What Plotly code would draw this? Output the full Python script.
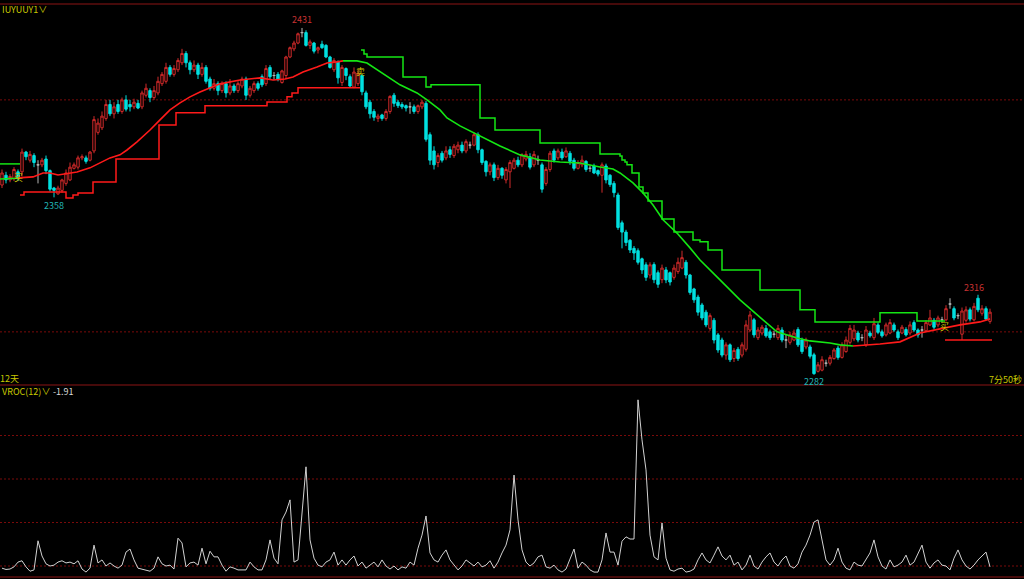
import plotly.graph_objects as go

# ---------------- price candles (one per bar) ----------------
opens = [
    2363.3, 2367.5, 2365.5, 2366, 2369, 2369, 2377.5, 2374, 2376, 2372,
    2372, 2374.5, 2369.5, 2362, 2359.5, 2361, 2364, 2365.5, 2370.5, 2371,
    2375, 2375, 2374, 2378, 2386, 2388, 2392, 2398, 2394, 2398,
    2395, 2400, 2398, 2397, 2398.5, 2397, 2402, 2404, 2401, 2403,
    2407, 2408, 2414, 2411, 2413, 2416, 2420, 2416, 2413, 2415,
    2411, 2414, 2409, 2405, 2407, 2404, 2407, 2403, 2406, 2404,
    2406, 2409, 2402, 2404, 2407, 2410, 2407, 2414, 2410.5, 2411,
    2407.5, 2410.5, 2418.5, 2422, 2424.5, 2429, 2429, 2423.5, 2424.5, 2421.5,
    2424, 2423.5, 2418.5, 2413, 2416.5, 2407.5, 2413.5, 2410, 2405.5, 2407,
    2410.5, 2403, 2399, 2395, 2392, 2393.5, 2392, 2395, 2402, 2399,
    2398, 2397.5, 2397, 2397, 2395, 2397, 2398.5, 2385, 2378, 2373,
    2377, 2375, 2378.5, 2376, 2378.5, 2380.5, 2378, 2380.5, 2380.5, 2385,
    2378.5, 2373.5, 2369, 2372, 2366.5, 2370.5, 2365.5, 2369, 2370.5, 2374,
    2372, 2374.5, 2375.5, 2372, 2374, 2372, 2364, 2370, 2378, 2375,
    2377.5, 2375.5, 2377, 2374, 2370.5, 2372, 2373.5, 2370.5, 2371.5, 2369.5,
    2367.5, 2371.5, 2367.5, 2364, 2359, 2347, 2343, 2339.5, 2336, 2335,
    2331.5, 2328.9, 2324.5, 2329, 2325.5, 2322.5, 2326.7, 2325.5, 2323.5, 2326,
    2327.5, 2330, 2324.5, 2318.5, 2315, 2311.6, 2308.5, 2301.5, 2305, 2298.7,
    2296.5, 2290, 2294.4, 2288.5, 2292.5, 2290, 2292.5, 2300.8, 2305.2, 2297.5,
    2299.5, 2301.5, 2300, 2299, 2297.5, 2300.8, 2296.5, 2295.5, 2296.5, 2301,
    2296.5, 2293.5, 2293.5, 2290.1, 2283, 2283.5, 2286.5, 2286.5, 2288.5, 2293,
    2289, 2291.5, 2295.5, 2297, 2299.5, 2297.5, 2294.4, 2299.5, 2297.5, 2303,
    2300, 2298.7, 2299.5, 2303, 2300, 2299.5, 2301, 2299.5, 2304, 2300.8,
    2300.8, 2300.5, 2303, 2305, 2303, 2305.2, 2305.2, 2312, 2310, 2307,
    2299, 2305, 2309.5, 2305.2, 2314.5, 2308, 2310, 2304.5,
]
highs = [
    2370, 2369, 2368, 2371, 2370, 2379, 2378, 2378, 2377, 2374,
    2375, 2376, 2370, 2362.5, 2363, 2366, 2370, 2373, 2373, 2376,
    2376.5, 2376, 2378, 2393, 2392, 2395, 2400, 2400, 2399, 2400,
    2401, 2402, 2400, 2400.5, 2400, 2404, 2407, 2405, 2406, 2410,
    2412, 2416, 2415, 2415, 2418, 2422, 2421, 2417, 2417, 2416,
    2416, 2415, 2410, 2409, 2408, 2408, 2408, 2409, 2407, 2408,
    2410, 2410, 2406, 2408, 2408, 2411, 2415, 2415, 2412, 2412,
    2413, 2419, 2423, 2425.5, 2429, 2431, 2430, 2426, 2425, 2423,
    2425.5, 2424, 2419, 2418, 2417, 2415, 2414, 2411, 2414, 2413,
    2411, 2404, 2400, 2396, 2394, 2394, 2396, 2402, 2403, 2400,
    2399, 2398, 2399, 2398, 2398, 2400, 2399.5, 2386, 2380, 2377,
    2378, 2380, 2380, 2381, 2382, 2382, 2383, 2382, 2386, 2386,
    2379, 2374, 2373, 2373, 2372, 2371, 2371, 2374, 2375, 2375.5,
    2377, 2378, 2377, 2378, 2376, 2373, 2371, 2378, 2379, 2379,
    2379, 2379.5, 2378, 2375, 2374, 2376, 2374, 2372, 2372.5, 2370,
    2373, 2372.5, 2368, 2365, 2360, 2348, 2344, 2340, 2337, 2336,
    2332, 2330, 2330, 2330, 2326.5, 2329, 2328, 2326, 2329, 2332,
    2335, 2331, 2325, 2319, 2316, 2312.5, 2309.5, 2308, 2306, 2299.5,
    2297.5, 2295.5, 2295, 2293, 2293.5, 2295.5, 2305, 2309, 2306, 2302,
    2303, 2303, 2301, 2300.5, 2303, 2302, 2298.7, 2300, 2301, 2302,
    2297.5, 2297.5, 2294.5, 2291, 2287, 2289.5, 2288, 2290, 2293, 2294,
    2295.5, 2298, 2303, 2303, 2300.5, 2299, 2302.5, 2300.5, 2306, 2304,
    2301, 2304, 2305.5, 2304, 2301, 2303, 2302, 2304.5, 2305, 2301.5,
    2302.5, 2305, 2309.5, 2306, 2307, 2306.5, 2311.5, 2314.5, 2311, 2308,
    2310.5, 2311, 2310.5, 2312.5, 2316, 2311.5, 2311, 2310,
]
lows = [
    2362, 2364, 2364.5, 2365, 2365, 2367, 2374, 2373, 2371, 2364,
    2371, 2368, 2360.5, 2358, 2359, 2360, 2363, 2365, 2370, 2370,
    2374, 2372.5, 2373.5, 2377, 2385, 2387, 2391, 2393, 2392, 2394,
    2394, 2395, 2395, 2396, 2396, 2396, 2401, 2399, 2400, 2402,
    2406, 2407, 2410, 2410, 2412, 2415, 2414, 2411, 2412, 2409,
    2410, 2407, 2404, 2404, 2402, 2403, 2401, 2402, 2403, 2403,
    2405, 2400, 2401, 2403, 2404, 2405.5, 2406, 2409, 2408.5, 2408,
    2407, 2409, 2418, 2421, 2424, 2427, 2423, 2422, 2420, 2420,
    2422, 2418, 2413.5, 2412, 2407, 2406, 2408.5, 2405.5, 2405, 2406,
    2402, 2396, 2392, 2391, 2390.5, 2391, 2391, 2394, 2397, 2396.5,
    2396, 2395, 2394, 2394, 2394, 2396, 2382, 2372, 2370, 2371,
    2373, 2374, 2375, 2375, 2377, 2377, 2377, 2379, 2380, 2377,
    2372, 2367, 2367.5, 2365, 2365.5, 2366, 2364, 2362, 2370, 2371,
    2371, 2373.5, 2370, 2371, 2372, 2360, 2363, 2369, 2373, 2374,
    2374, 2375, 2372, 2369.5, 2370, 2371, 2369, 2369, 2368, 2367,
    2360, 2364, 2362.5, 2358, 2344, 2336, 2337, 2334, 2331, 2329,
    2325, 2322, 2323, 2321, 2319, 2321, 2321, 2320, 2322.5, 2325,
    2327, 2323, 2316, 2312.5, 2307, 2305, 2302, 2300.5, 2295, 2291,
    2289, 2288, 2287, 2287, 2287.5, 2289, 2291.5, 2300, 2297.5, 2296.5,
    2298.5, 2297.5, 2296.5, 2297.5, 2296.5, 2295.5, 2293, 2294.5, 2296, 2293.5,
    2290.5, 2292.5, 2288.5, 2281.5, 2282.5, 2283, 2285, 2285.5, 2288, 2288,
    2288.5, 2291, 2294.5, 2296, 2295.5, 2296, 2293.5, 2297.5, 2296.5, 2299,
    2297.5, 2298, 2299, 2300, 2296.5, 2299, 2298, 2298.5, 2300, 2297.5,
    2297.5, 2300, 2302.5, 2301, 2302, 2304, 2304.5, 2310, 2305, 2305.5,
    2296.5, 2304, 2304.5, 2304.5, 2308.5, 2307, 2305, 2303.5,
]
closes = [
    2368.5, 2365.5, 2367, 2370, 2366, 2377.5, 2375.5, 2376.5, 2373, 2372,
    2374, 2369.5, 2361.5, 2361, 2362, 2365.5, 2368.5, 2371, 2372, 2375,
    2375.5, 2373.5, 2377.5, 2391.5, 2390, 2393, 2398, 2394, 2397, 2395,
    2400, 2396, 2397, 2399, 2396.5, 2403, 2405, 2401, 2404, 2408,
    2411, 2414, 2411, 2413.5, 2417, 2420, 2416, 2413, 2415, 2411,
    2414, 2408, 2405, 2407, 2404, 2407, 2403, 2406, 2404, 2407,
    2409, 2402, 2405, 2407, 2405, 2406.5, 2413.5, 2410, 2410.5, 2409,
    2412.5, 2418.5, 2422.5, 2424.5, 2428.5, 2429, 2423.5, 2425, 2421, 2422.5,
    2422.5, 2418.5, 2414, 2417, 2409.5, 2414, 2410.5, 2406, 2412, 2411.5,
    2403.5, 2397, 2394, 2392.5, 2393, 2392, 2395, 2401.5, 2398.5, 2397.5,
    2397, 2396.5, 2397, 2395, 2397.5, 2399, 2383, 2374, 2372, 2376,
    2374, 2378, 2376.5, 2380, 2380.5, 2378, 2382, 2380.5, 2385, 2378.5,
    2373, 2369, 2372, 2366.5, 2370.5, 2367.5, 2370, 2373, 2374, 2372,
    2376.3, 2376.5, 2371, 2376.5, 2374, 2361.5, 2370, 2377, 2374, 2378,
    2375, 2378, 2373.5, 2370.5, 2373, 2374, 2370, 2370.5, 2368.5, 2368,
    2372, 2365.5, 2363.5, 2360, 2345, 2343, 2338.5, 2335.3, 2334, 2330,
    2326.7, 2323.5, 2328.9, 2322.5, 2320.5, 2327.5, 2322.4, 2321.5, 2327.5, 2330,
    2332, 2324.5, 2317, 2313.8, 2308.5, 2306, 2303, 2307, 2296.5, 2292.2,
    2290, 2294.4, 2288, 2292, 2288.5, 2294.4, 2303, 2307.3, 2298.7, 2300.8,
    2302, 2298.3, 2297.5, 2299, 2301.5, 2296.5, 2296.5, 2298.7, 2299.5, 2294.4,
    2291.5, 2296.5, 2289.5, 2282, 2285.8, 2288, 2286.5, 2289, 2292.2, 2289,
    2294.4, 2296.5, 2301.5, 2300.8, 2296.5, 2297.5, 2300.8, 2298.3, 2303.5, 2299.8,
    2298.3, 2303, 2304, 2300.8, 2297.5, 2302, 2298.7, 2303, 2300.8, 2298.7,
    2300.8, 2304, 2306, 2302, 2306, 2305.2, 2310, 2312, 2306, 2307,
    2309, 2309.5, 2305.5, 2311, 2309.5, 2310, 2305.5, 2308.5,
]

# ---------------- VROC(12) values (one per bar) ----------------
vroc = [
    -5, -8, -7, -2, 9, 12, -2, -12, -9, 58,
    23, 5, 0, 2, 9, 12, 7, 9, 5, 12,
    -7, -14, -5, 48, 7, 14, 0, 7, 0, -5,
    2, 32, 39, 14, -5, -7, -9, -12, -5, 21,
    5, 0, 2, -7, 64, 53, -2, 7, 9, 2,
    41, 5, 34, 21, 21, 2, -12, -2, -5, -9,
    -9, -9, 9, -2, -9, -9, 14, 60, 18, 5,
    106, 124, 152, 9, 14, 129, 228, 60, 18, 2,
    -2, 9, 14, 32, 2, 14, 2, 14, 23, 0,
    9, -5, 2, 9, -2, 14, 0, -7, 0, -9,
    -2, -5, 9, 2, 41, 71, 115, 30, 14, 9,
    25, 37, 14, 2, -9, 0, 14, 7, 0, 9,
    -2, 2, 12, -5, 9, 30, 48, 83, 209, 106,
    37, 9, 0, 7, 21, 25, -2, -5, 2, -9,
    -14, -7, 14, 39, -5, 9, 2, -9, -14, -14,
    14, 76, 32, 32, 2, 57, 67, 62, 62, 382,
    290, 221, 71, 21, 14, 99, 18, -9, -12, -7,
    -5, -14, -12, -7, 14, 30, 14, 7, 25, 44,
    23, 14, 25, 2, 9, -9, 2, 25, 0, -7,
    9, 21, 30, 9, 0, 14, 23, 0, -5, 5,
    32, 48, 71, 101, 106, 60, 14, 2, 14, 41,
    9, -5, -9, 9, 2, 0, 14, 30, 60, 21,
    0, -7, 14, -2, 2, 9, 25, 2, 9, 30,
    48, 9, -5, 7, 14, 2, 0, -9, 18, 37,
    14, 0, -7, 2, 14, 23, 32, -1.91,
]

# ---------------- indicator lines (bar index, price) ----------------
ma_green_left_idx = [-0.5, 4.0]
ma_green_left_val = [2365.9, 2366.2]
ma_red_up_idx = [4.0, 7.75, 10.25, 12, 14, 16.25, 18.75, 22, 24.5, 27, 29.5, 31.25,
                 33.75, 37, 39.5, 42, 44.5, 47, 49.5, 52, 54.5, 59.5, 64.5, 67.75,
                 70.75, 72.75, 75.25, 78.75, 81.25, 83.75, 85.25]
ma_red_up_val = [2366.4, 2366.8, 2368.5, 2368.5, 2367.6, 2368.1, 2368.9, 2370.7, 2372.8,
                 2375.0, 2376.3, 2378.4, 2381.9, 2387.0, 2391.4, 2395.7, 2398.7, 2401.3,
                 2403.4, 2405.2, 2406.9, 2408.6, 2409.5, 2408.6, 2409.0, 2409.9, 2412.0,
                 2414.2, 2415.9, 2416.4, 2416.8]
ma_green_idx = [85.25, 88.75, 91.25, 92.75, 96.25, 99.5, 103.75, 106.25, 109.5, 111.25,
                114.5, 119.5, 124.5, 129.5, 134.5, 139.5, 144.5, 149.5, 152.75, 154.5,
                157.75, 160.25, 162.75, 165.25, 168.75, 172, 174.5, 179.5, 184.5, 190.25,
                193.75, 198.75, 202, 207, 209.5, 212.75]
ma_green_val = [2416.8, 2416.8, 2415.9, 2414.2, 2409.9, 2406.5, 2403.0, 2400.0, 2395.7,
                2392.2, 2388.8, 2384.5, 2380.1, 2376.3, 2374.1, 2373.2, 2372.8, 2371.1,
                2370.2, 2368.5, 2364.2, 2359.9, 2354.7, 2348.3, 2342.6, 2336.2, 2331.0,
                2322.4, 2313.8, 2305.2, 2300.0, 2297.4, 2296.1, 2295.2, 2294.4, 2293.9]
ma_red_end_idx = [212.75, 217, 219.5, 224.5, 229.5, 234.5, 239.5, 244.5, 247]
ma_red_end_val = [2293.9, 2294.4, 2294.8, 2295.7, 2299.5, 2301.3, 2303.0, 2304.3, 2305.6]

stop_green_left_idx = [-0.5, 4.5]
stop_green_left_val = [2372.4, 2372.4]
stop_red_idx = [4.5, 5.5, 16, 17.75, 19, 22.75, 28.5, 39.25, 43.5, 50.75, 66.25, 71.25,
                72.5, 74, 89.5]
stop_red_val = [2359.0, 2360.3, 2357.7, 2359.0, 2359.9, 2364.6, 2374.5, 2389.2, 2394.5,
                2397.5, 2399.1, 2401.3, 2403.0, 2405.2, 2405.2]
stop_green_idx = [89.75, 90.5, 91.25, 100.25, 106, 107.25, 119.5, 123.25, 134.5, 149.5,
                  154.5, 155, 155.75, 156.25, 157.5, 159.25, 160.25, 161.5, 165, 168,
                  172.75, 174.5, 176.5, 180, 189.5, 199.5, 203.25, 219.5, 228.75, 235.75]
stop_green_val = [2421.5, 2419.8, 2418.5, 2409.9, 2405.6, 2406.5, 2392.2, 2387.0, 2381.4,
                  2376.7, 2375.8, 2374.1, 2373.2, 2372.0, 2368.5, 2362.5, 2359.9, 2356.4,
                  2348.7, 2343.1, 2339.6, 2338.8, 2335.3, 2326.7, 2318.1, 2309.5, 2304.3,
                  2308.2, 2304.7, 2304.7]
stop_red_end_idx = [235.75, 247.5]
stop_red_end_val = [2296.5, 2296.5]

price_grid = [2400, 2300]
vroc_grid = [0, 100, 200, 300]

# ---------------- styling ----------------
W, H = 1024, 579
UP = "#d02a2a"
DOWN = "#00e0e0"
FLAT = "#b4b4b4"
LINE_RED = "#ff1a1a"
LINE_GREEN = "#14e614"
YELLOW = "#c8c800"
FRAME = "#8c1414"
GRID = "#7a0a0a"


def px_x(p):
    return p / W


def px_y(p):
    return 1 - p / H


bars = list(range(len(closes)))
up_i = [i for i in bars if closes[i] > opens[i]]
dn_i = [i for i in bars if closes[i] < opens[i]]
fl_i = [i for i in bars if closes[i] == opens[i]]


def pick(arr, idx):
    return [arr[i] for i in idx]


fig = go.Figure()


def candles(idx, line_col, fill_col):
    fig.add_trace(go.Candlestick(
        x=idx, open=pick(opens, idx), high=pick(highs, idx),
        low=pick(lows, idx), close=pick(closes, idx),
        increasing=dict(line=dict(color=line_col, width=1), fillcolor=fill_col),
        decreasing=dict(line=dict(color=line_col, width=1), fillcolor=fill_col),
        whiskerwidth=0, hoverinfo="skip", showlegend=False,
        xaxis="x", yaxis="y"))


candles(up_i, UP, "#000000")
candles(dn_i, DOWN, DOWN)
candles(fl_i, FLAT, FLAT)


def line(xs, ys, color, width=1.6, shape="linear"):
    fig.add_trace(go.Scatter(x=xs, y=ys, mode="lines",
                             line=dict(color=color, width=width, shape=shape),
                             hoverinfo="skip", showlegend=False,
                             xaxis="x", yaxis="y"))


line(stop_green_left_idx, stop_green_left_val, LINE_GREEN, 1.5, "hv")
line(stop_red_idx, stop_red_val, LINE_RED, 1.5, "hv")
line(stop_green_idx, stop_green_val, LINE_GREEN, 1.5, "hv")
line(stop_red_end_idx, stop_red_end_val, LINE_RED, 1.5, "hv")
line(ma_green_left_idx, ma_green_left_val, LINE_GREEN, 1.6)
line(ma_red_up_idx, ma_red_up_val, LINE_RED, 1.6)
line(ma_green_idx, ma_green_val, LINE_GREEN, 1.6)
line(ma_red_end_idx, ma_red_end_val, LINE_RED, 1.6)

fig.add_trace(go.Scatter(x=bars, y=vroc, mode="lines",
                         line=dict(color="#d2d2d2", width=1),
                         hoverinfo="skip", showlegend=False,
                         xaxis="x2", yaxis="y2"))

shapes = []
for v in price_grid:
    shapes.append(dict(type="line", xref="paper", x0=0, x1=1, yref="y", y0=v, y1=v,
                       line=dict(color=GRID, width=1, dash="2px,2px"), layer="below"))
for v in vroc_grid:
    shapes.append(dict(type="line", xref="paper", x0=0, x1=1, yref="y2", y0=v, y1=v,
                       line=dict(color=GRID, width=1, dash="2px,2px"), layer="below"))
for p in (4, 385, 577):
    shapes.append(dict(type="line", xref="paper", x0=0, x1=1, yref="paper",
                       y0=px_y(p), y1=px_y(p), line=dict(color=FRAME, width=1.2)))

CJK = "Noto Sans CJK SC, DejaVu Sans, sans-serif"
annotations = []


def label(text, x, y, color, size=9, xanchor="left", family=CJK):
    annotations.append(dict(text=text, x=px_x(x), y=px_y(y), xref="paper", yref="paper",
                            showarrow=False, xanchor=xanchor, yanchor="middle",
                            font=dict(color=color, size=size, family=family)))


label("IUYUUY1∨", 0, 9, YELLOW, 9)
label("12天", -2, 378, YELLOW, 9)
label("VROC(12)∨", 0, 391, YELLOW, 9)
label("-1.91", 51, 391, "#d8d8d8", 9)
label("7分50秒", 1024, 379, YELLOW, 9, xanchor="right")


def price_label(text, xi, yv, color, shift):
    annotations.append(dict(text=text, x=xi, y=yv, xref="x", yref="y", showarrow=False,
                            yshift=shift, font=dict(color=color, size=9, family=CJK)))


price_label("2431", 75, 2431, "#c83232", 8)
price_label("2358", 13, 2358, "#20b4b4", -8)
price_label("2282", 203, 2281.5, "#20b4b4", -7)
price_label("2316", 243, 2316, "#c83232", 7)


def signal(text, xi, yv):
    annotations.append(dict(text=text, x=xi, y=yv, xref="x", yref="y", showarrow=False,
                            font=dict(color="#d2c800", size=9, family=CJK)))


signal("买", 4, 2366.5)
signal("卖", 89.5, 2412.3)
signal("买", 235.5, 2302.5)

xr = [-0.5, 255.5]
fig.update_layout(
    width=W, height=H, margin=dict(l=0, r=0, t=0, b=0),
    paper_bgcolor="#000000", plot_bgcolor="#000000",
    boxgap=0.15,
    xaxis=dict(range=xr, visible=False, rangeslider=dict(visible=False),
               domain=[0, 1], anchor="y"),
    xaxis2=dict(range=xr, visible=False, domain=[0, 1], anchor="y2"),
    yaxis=dict(range=[2277.1, 2440.9], visible=False, domain=[px_y(385), px_y(5)]),
    yaxis2=dict(range=[-25.3, 416.1], visible=False, domain=[px_y(577), px_y(385)]),
    shapes=shapes, annotations=annotations, showlegend=False,
)

fig.write_html(
    "out.html",
    config={"displayModeBar": False},
    post_script="document.body.style.margin='0px';document.body.style.padding='0px';"
                "document.body.style.overflow='hidden';document.body.style.background='#000';",
)
